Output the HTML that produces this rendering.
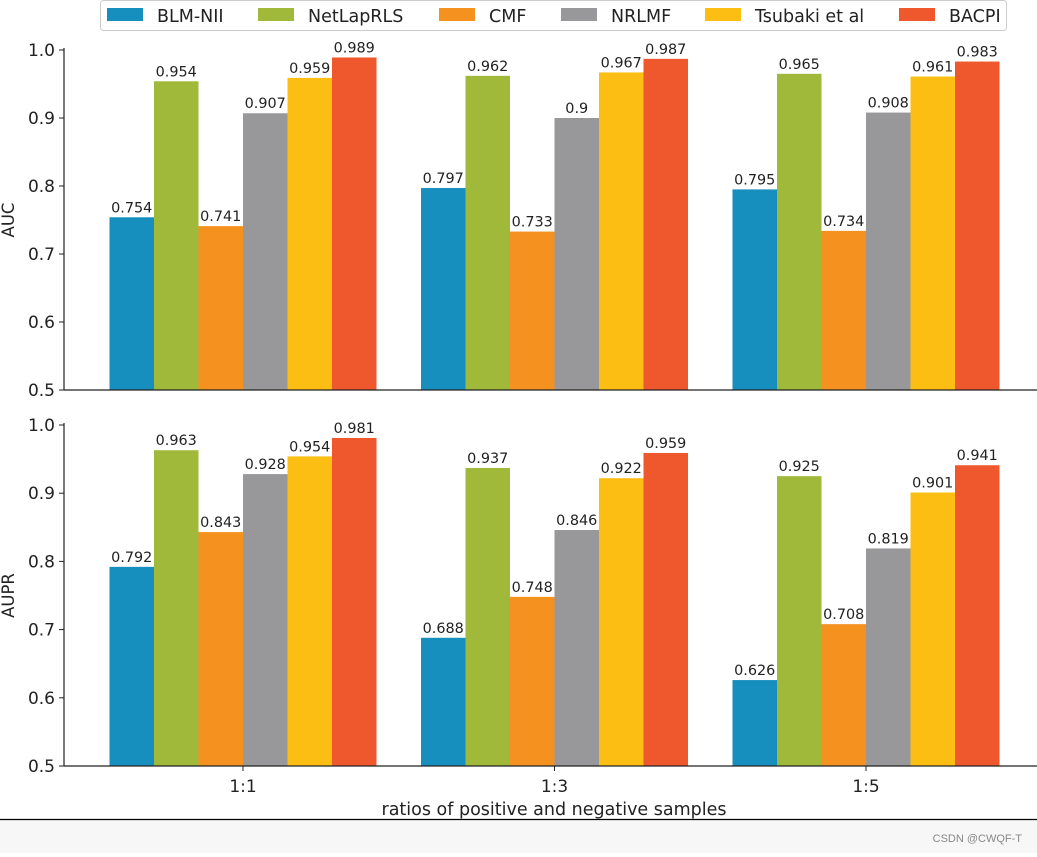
<!DOCTYPE html>
<html><head><meta charset="utf-8"><style>
body{margin:0;background:#fff;width:1037px;height:853px;overflow:hidden;font-family:"DejaVu Sans","Liberation Sans",sans-serif}
</style></head><body>
<svg id="c" width="1037" height="853" xmlns="http://www.w3.org/2000/svg">
<rect x="0" y="820" width="1037" height="33" fill="#f7f7f7"/>
<line x1="0" y1="819.5" x2="1037" y2="819.5" stroke="#000" stroke-width="1.2"/>
<text x="1022" y="842" text-anchor="end" font-size="11" fill="#888" font-family="Liberation Sans,sans-serif">CSDN @CWQF-T</text>
</svg>
<script>
const categories=["1:1","1:3","1:5"];
const series=["BLM-NII","NetLapRLS","CMF","NRLMF","Tsubaki et al","BACPI"];
const colors=["#168ebe","#a1b93a","#f5911f","#98989a","#fdbe13","#ef572d"];
const aucValues=[[0.754,0.797,0.795],[0.954,0.962,0.965],[0.741,0.733,0.734],[0.907,0.9,0.908],[0.959,0.967,0.961],[0.989,0.987,0.983]];
const auprValues=[[0.792,0.688,0.626],[0.963,0.937,0.925],[0.843,0.748,0.708],[0.928,0.846,0.819],[0.954,0.922,0.901],[0.981,0.959,0.941]];
const yTicks=[0.5,0.6,0.7,0.8,0.9,1.0];
const svg=document.getElementById('c');
const NS="http://www.w3.org/2000/svg";
function mk(t,a,p){const e=document.createElementNS(NS,t);for(const k in a)e.setAttribute(k,a[k]);(p||svg).appendChild(e);return e;}
const left=64,right=1037,center0=243,groupStep=311.5,barW=44.5;
function xc(i,s){return center0+i*groupStep+(s-2.5)*barW;}
function panel(name,vals,top,bottom,label){
  const g=mk('g',{});
  
  
  const y=v=>bottom-(v-0.5)/0.5*(bottom-top);
  vals.forEach((row,s)=>row.forEach((v,i)=>{
    const x=xc(i,s)-barW/2;
    const r=mk('rect',{x:x,y:y(v),width:barW,height:bottom-y(v),fill:colors[s]},g);
    
    
    const t=mk('text',{x:xc(i,s),y:y(v)-5,'text-anchor':'middle','font-size':14.4,fill:'#222'},g);
    t.textContent=String(v);
    
    
  }));
  const la=mk('line',{x1:left,y1:top-2,x2:left,y2:bottom,stroke:'#222','stroke-width':1.2},g);
  
  
  const lb=mk('line',{x1:left,y1:bottom,x2:right,y2:bottom,stroke:'#222','stroke-width':1.2},g);
  
  
  yTicks.forEach(v=>{
    mk('line',{x1:left-5,y1:y(v),x2:left,y2:y(v),stroke:'#222'},g);
    const t=mk('text',{x:left-9,y:y(v)+6,'text-anchor':'end','font-size':17,fill:'#222'},g);
    t.textContent=v.toFixed(1);
    
    
  });
  const yt=mk('text',{x:14,y:(top+bottom)/2,'text-anchor':'middle','font-size':16.5,fill:'#222',transform:`rotate(-90 14 ${(top+bottom)/2})`},g);
  yt.textContent=label;
  
  
  return y;
}
panel('auc',aucValues,50,390,'AUC');
panel('aupr',auprValues,425,766,'AUPR');
categories.forEach((c,i)=>{
  const x=center0+i*groupStep;
  mk('line',{x1:x,y1:766,x2:x,y2:771,stroke:'#222'});
  const t=mk('text',{x:x,y:792,'text-anchor':'middle','font-size':17,fill:'#222'});
  t.textContent=c;
  
  
});
const xt=mk('text',{x:554,y:815,'text-anchor':'middle','font-size':17.5,fill:'#222'});
xt.textContent='ratios of positive and negative samples';


const lg=mk('g',{});


mk('rect',{x:100.5,y:0.5,width:906,height:30,rx:3,fill:'#fff',stroke:'#ccc'},lg);
const lx=[107,258,439,561,705,899];
series.forEach((s,i)=>{
  mk('rect',{x:lx[i],y:8,width:36,height:13,fill:colors[i]},lg);
  const t=mk('text',{x:lx[i]+50,y:22,'font-size':17.5,fill:'#222'},lg);
  t.textContent=s;
  
  
});
</script>
</body></html>
